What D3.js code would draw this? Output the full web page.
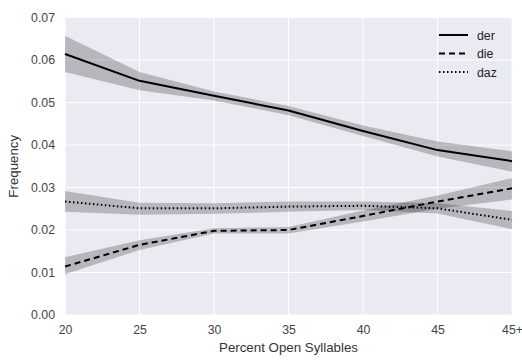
<!DOCTYPE html>
<html><head><meta charset="utf-8">
<script src="https://cdn.jsdelivr.net/npm/d3@7"></script>
<style>body{margin:0;background:#fff}text{font-family:"Liberation Sans",Arial,sans-serif}</style>
</head><body>
<svg id="chart" width="522" height="360"></svg>
<script>
const categories = ["20","25","30","35","40","45","45+"];
const derValues = [0.0614,0.0551,0.0516,0.0481,0.0433,0.0388,0.0362];
const derLower  = [0.0572,0.0529,0.0505,0.0470,0.0421,0.0373,0.0337];
const derUpper  = [0.0657,0.0572,0.0526,0.0492,0.0446,0.0408,0.0385];
const dieValues = [0.0114,0.0165,0.0198,0.0200,0.0233,0.0267,0.0298];
const dieLower  = [0.0096,0.0153,0.0192,0.0192,0.0220,0.0250,0.0272];
const dieUpper  = [0.0136,0.0176,0.0204,0.0207,0.0246,0.0281,0.0322];
const dazValues = [0.0267,0.0251,0.0251,0.0255,0.0257,0.0251,0.0224];
const dazLower  = [0.0243,0.0236,0.0238,0.0243,0.0247,0.0239,0.0202];
const dazUpper  = [0.0292,0.0264,0.0263,0.0267,0.0267,0.0263,0.0245];
const yTicks = [0,0.01,0.02,0.03,0.04,0.05,0.06,0.07];
const seriesNames = ["der","die","daz"];

const series = [
  {name:"der", v:derValues, lo:derLower, hi:derUpper, dash:null},
  {name:"die", v:dieValues, lo:dieLower, hi:dieUpper, dash:"6,4"},
  {name:"daz", v:dazValues, lo:dazLower, hi:dazUpper, dash:"1.5,2.5"}
];

const m = {l:65, r:10, t:17.5, b:45};
const W = 522, H = 360;
const svg = d3.select("#chart");
const x = d3.scalePoint().domain(categories).range([m.l, W - m.r]);
const y = d3.scaleLinear().domain([0,0.07]).range([H - m.b, m.t]);

svg.append("rect").attr("x", m.l).attr("y", m.t)
  .attr("width", W - m.r - m.l).attr("height", H - m.b - m.t).attr("fill", "#EAEAF2");

// grid
svg.append("g").selectAll("line").data(yTicks).join("line")
  .attr("x1", m.l).attr("x2", W - m.r).attr("y1", d => y(d)).attr("y2", d => y(d))
  .attr("stroke", "#fff").attr("stroke-width", 1);
svg.append("g").selectAll("line").data(categories).join("line")
  .attr("y1", m.t).attr("y2", H - m.b).attr("x1", d => x(d)).attr("x2", d => x(d))
  .attr("stroke", "#fff").attr("stroke-width", 1);

// axes
const yAxis = svg.append("g").attr("transform", `translate(${m.l},0)`)
  .call(d3.axisLeft(y).tickValues(yTicks).tickFormat(d3.format(".2f")).tickSize(0).tickPadding(10));
const xAxis = svg.append("g").attr("transform", `translate(0,${H - m.b})`)
  .call(d3.axisBottom(x).tickSize(0).tickPadding(10));
[xAxis, yAxis].forEach(a => {
  a.select(".domain").remove();
  a.selectAll("text").attr("font-size", 12.3).attr("fill", "#444")
    .style("font-family", '"Liberation Sans",Arial,sans-serif');
});

// bands
const area = d3.area().x((d,i) => x(categories[i])).y0(d => y(d[0])).y1(d => y(d[1]));
const line = d3.line().x((d,i) => x(categories[i])).y(d => y(d));
series.forEach(s => {
  svg.append("path").datum(s.lo.map((l,i) => [l, s.hi[i]]))
    .attr("d", area).attr("fill", "#000").attr("fill-opacity", 0.22);
});
series.forEach(s => {
  svg.append("path").datum(s.v).attr("d", line).attr("fill", "none")
    .attr("stroke", "#000").attr("stroke-width", 2)
    .attr("stroke-dasharray", s.dash);
});

// legend
const lg = svg.append("g");
series.forEach((s, i) => {
  const yy = 35 + i * 18.5;
  lg.append("line").attr("x1", 439).attr("x2", 468).attr("y1", yy).attr("y2", yy)
    .attr("stroke", "#000").attr("stroke-width", 2).attr("stroke-dasharray", s.dash);
  lg.append("text").attr("x", 477).attr("y", yy + 4.5).attr("font-size", 12.3)
    .attr("fill", "#222").text(seriesNames[i]);
});

// titles
svg.append("text").attr("x", (m.l + W - m.r) / 2).attr("y", 352).attr("text-anchor", "middle")
  .attr("font-size", 13.3).attr("fill", "#333").text("Percent Open Syllables");
svg.append("text").attr("transform", `translate(18,${(m.t + H - m.b) / 2}) rotate(-90)`)
  .attr("text-anchor", "middle").attr("font-size", 13.3).attr("fill", "#333").text("Frequency");
</script>
</body></html>
